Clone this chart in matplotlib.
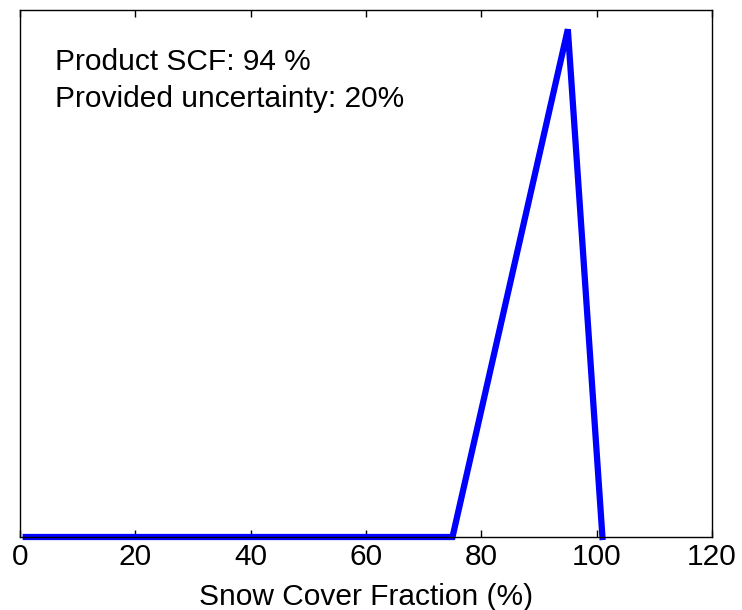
import matplotlib
matplotlib.use("Agg")
import matplotlib.pyplot as plt

# SCF distribution
scf = [1, 75, 95, 101]
density = [0, 0, 0.05, 0]
xticks = [0, 20, 40, 60, 80, 100, 120]

plt.rcParams['font.family'] = ['Liberation Sans', 'DejaVu Sans']

fig = plt.figure(figsize=(7.42, 6.10), dpi=100)
ax = fig.add_axes([20 / 742, 1 - 537 / 610, 692 / 742, 527 / 610])

ax.plot(scf, density, color='blue', linewidth=4.5, solid_joinstyle='miter', clip_on=False)

ax.set_xlim(0, 120)
ax.set_ylim(0, 0.0519)
ax.set_xticks(xticks)
ax.set_yticks([])
ax.tick_params(axis='x', direction='in', top=True, length=5, width=1, labelsize=21.5, pad=4)
for s in ax.spines.values():
    s.set_linewidth(1)
ax.set_xlabel("Snow Cover Fraction (%)", fontsize=21.5, labelpad=9)

ax.text(0.05, 0.902, "Product SCF: 94 %", transform=ax.transAxes, fontsize=21.5, va='center')
ax.text(0.05, 0.832, "Provided uncertainty: 20%", transform=ax.transAxes, fontsize=21.5, va='center')

fig.savefig("out.png", dpi=100)
